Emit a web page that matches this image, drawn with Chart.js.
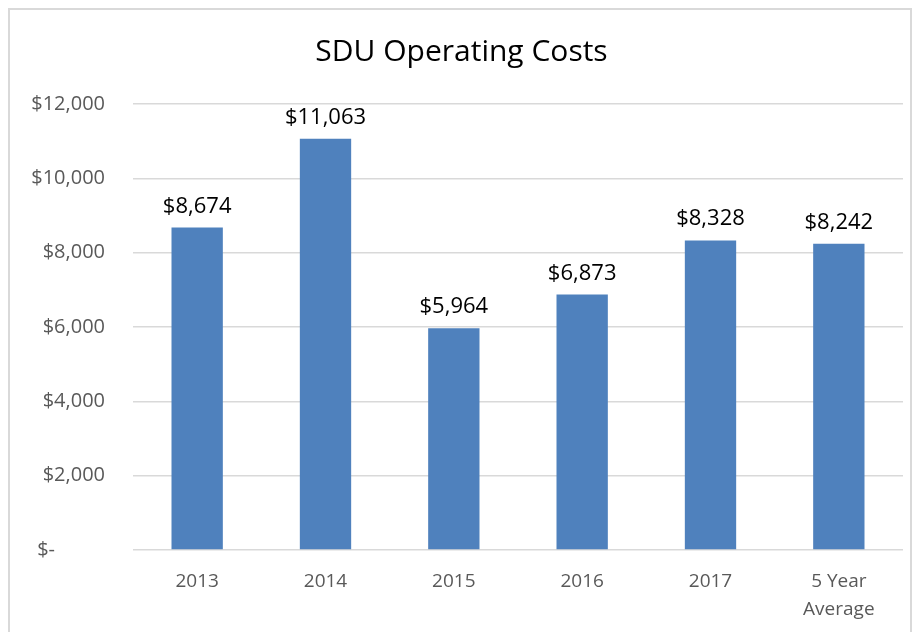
<!DOCTYPE html>
<html>
<head>
<meta charset="utf-8">
<script src="https://cdn.jsdelivr.net/npm/chart.js@4"></script>
<style>
  html,body{margin:0;padding:0;background:#fff;overflow:hidden;}
  #wrap{position:absolute;left:0;top:0;width:917px;height:632px;}
  #frame{position:absolute;left:8px;top:8px;width:904px;height:640px;border:2px solid #d9d9d9;box-sizing:border-box;}
</style>
</head>
<body>
<div id="wrap">
  <div id="frame"></div>
  <canvas id="costChart" width="917" height="632"></canvas>
</div>
<script>
// ===== Data =====
const categories = ["2013", "2014", "2015", "2016", "2017", ["5 Year", "Average"]];
const costValues = [8674, 11063, 5964, 6873, 8328, 8242];
const yTicks = [0, 2000, 4000, 6000, 8000, 10000, 12000];

// ===== Helpers =====
function money(v){ return "$" + v.toLocaleString("en-US"); }
function tickLabel(v){ return v === 0 ? "$-\u2003\u2003\u2002" : money(v); }

const FONT = '"Open Sans", sans-serif';

// data labels above each bar
const barLabels = {
  id: "barLabels",
  afterDatasetsDraw(chart){
    const c = chart.ctx;
    const meta = chart.getDatasetMeta(0);
    c.save();
    c.font = "22px " + FONT;
    c.fillStyle = "#000";
    c.textAlign = "center";
    c.textBaseline = "alphabetic";
    meta.data.forEach((bar, i) => {
      c.fillText(money(costValues[i]), bar.x, bar.y - 15);
    });
    c.restore();
  }
};

// ===== Chart =====
new Chart(document.getElementById("costChart").getContext("2d"), {
  type: "bar",
  data: {
    labels: categories,
    datasets: [{
      data: costValues,
      backgroundColor: "#4F81BD",
      borderWidth: 0,
      categoryPercentage: 1,
      barPercentage: 0.4
    }]
  },
  options: {
    responsive: false,
    animation: false,
    layout: { padding: { left: 20, right: 14, top: 0, bottom: 0 } },
    plugins: {
      legend: { display: false },
      tooltip: { enabled: false },
      title: {
        display: true,
        text: "SDU Operating Costs",
        color: "#000",
        font: { family: FONT, size: 30, weight: "normal" },
        padding: { top: 34, bottom: 34 }
      }
    },
    scales: {
      x: {
        grid: { display: false },
        border: { display: false },
        ticks: { color: "#595959", font: { family: FONT, size: 19, lineHeight: 1.45 }, padding: 10, maxRotation: 0 },
        afterFit(s){ s.height = 82; }
      },
      y: {
        min: 0,
        max: 12000,
        afterBuildTicks(s){ s.ticks = yTicks.map(v => ({ value: v })); },
        grid: { color: "#d9d9d9", lineWidth: 1.5, drawTicks: false },
        border: { display: false },
        ticks: { color: "#595959", font: { family: FONT, size: 20 }, padding: 28, callback: v => tickLabel(v) },
        afterFit(s){ s.width = 113; }
      }
    }
  },
  plugins: [barLabels]
});
</script>
</body>
</html>
